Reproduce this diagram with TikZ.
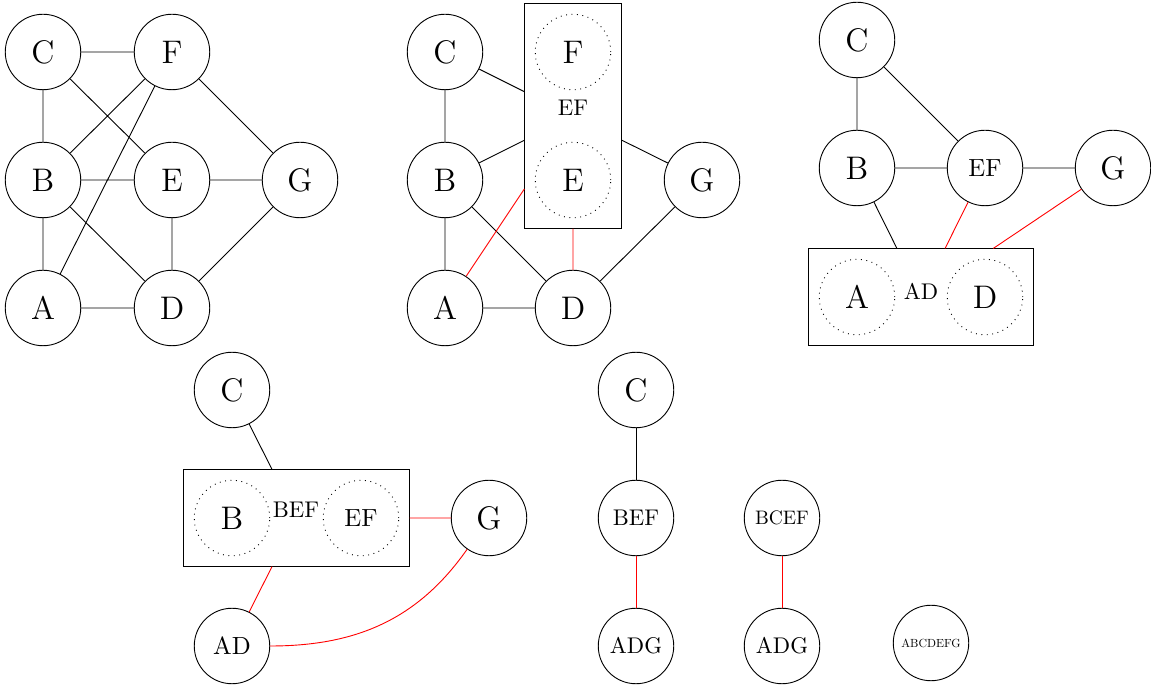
\documentclass[tikz,border=0pt]{standalone}
\usetikzlibrary{fit}
\begin{document}
\begin{tikzpicture}[x=0.015504cm,y=-0.015504cm,
  vert/.style={circle,draw,minimum size=1.17cm,inner sep=0pt,font=\Large},
  multi/.style={vert,font=\normalsize},
  duo/.style={font=\fontsize{10.95}{13}\selectfont},
  ghost/.style={vert,dotted},
  grp/.style={draw,rectangle,inner sep=4.4pt},
  lbl/.style={font=\normalsize,inner sep=0pt},
  sel/.style={red}]
\useasboundingbox (0,0) rectangle (1151,686);
% Graph 1
\node[vert] (a1C) at (43,52) {C};
\node[vert] (a1F) at (172,52) {F};
\node[vert] (a1B) at (43,180) {B};
\node[vert] (a1E) at (172,180) {E};
\node[vert] (a1G) at (300,180) {G};
\node[vert] (a1A) at (43,308) {A};
\node[vert] (a1D) at (172,308) {D};
\draw (a1C) -- (a1F) (a1C) -- (a1B) (a1C) -- (a1E) (a1F) -- (a1B) (a1F) -- (a1A)
  (a1F) -- (a1G) (a1B) -- (a1E) (a1E) -- (a1G) (a1B) -- (a1A) (a1B) -- (a1D)
  (a1E) -- (a1D) (a1A) -- (a1D) (a1G) -- (a1D);
% Graph 2
\node[vert] (a2C) at (445,52) {C};
\node[vert] (a2B) at (445,180) {B};
\node[vert] (a2A) at (445,308) {A};
\node[vert] (a2D) at (573,308) {D};
\node[vert] (a2G) at (702,180) {G};
\node[ghost] (a2F) at (573,52) {F};
\node[ghost] (a2E) at (573,180) {E};
\node[lbl] (a2L) at (573,108) {EF};
\node[grp,fit=(a2F)(a2E)] (a2X) {};
\draw (a2C) -- (a2B) (a2B) -- (a2A) (a2B) -- (a2D) (a2A) -- (a2D) (a2G) -- (a2D)
  (a2C) -- (a2X) (a2B) -- (a2X) (a2X) -- (a2G);
\draw[sel] (a2A) -- (a2X) (a2X) -- (a2D);
% Graph 3
\node[vert] (a3C) at (857,40) {C};
\node[vert] (a3B) at (857,168) {B};
\node[vert,duo] (a3EF) at (985,168) {EF};
\node[vert] (a3G) at (1113,168) {G};
\node[ghost] (a3A) at (857,297) {A};
\node[ghost] (a3D) at (985,297) {D};
\node[lbl] (a3L) at (921,291) {AD};
\node[grp,fit=(a3A)(a3D)] (a3X) {};
\draw (a3C) -- (a3B) (a3C) -- (a3EF) (a3B) -- (a3EF) (a3EF) -- (a3G) (a3B) -- (a3X);
\draw[sel] (a3EF) -- (a3X) (a3G) -- (a3X);
% Graph 4
\node[vert] (a4C) at (232,390) {C};
\node[ghost] (a4B) at (232,518) {B};
\node[ghost,duo] (a4EF) at (361,518) {EF};
\node[lbl] (a4L) at (296,510) {BEF};
\node[grp,fit=(a4B)(a4EF)] (a4X) {};
\node[vert] (a4G) at (489,518) {G};
\node[vert,duo] (a4AD) at (232,646) {AD};
\draw (a4C) -- (a4X);
\draw[sel] (a4X) -- (a4G) (a4X) -- (a4AD);
\draw[sel] (a4AD.east) to[out=0,in=-125] (a4G);
% Graph 5
\node[vert] (a5C) at (636,390) {C};
\node[multi] (a5BEF) at (636,518) {BEF};
\node[multi] (a5ADG) at (636,646) {ADG};
\draw (a5C) -- (a5BEF);
\draw[sel] (a5BEF) -- (a5ADG);
% Graph 6
\node[multi] (a6BCEF) at (782,518) {\scalebox{0.86}{BCEF}};
\node[multi] (a6ADG) at (782,646) {ADG};
\draw[sel] (a6BCEF) -- (a6ADG);
% Graph 7
\node[multi] (a7All) at (931,643) {\scalebox{0.52}{ABCDEFG}};
\end{tikzpicture}
\end{document}
